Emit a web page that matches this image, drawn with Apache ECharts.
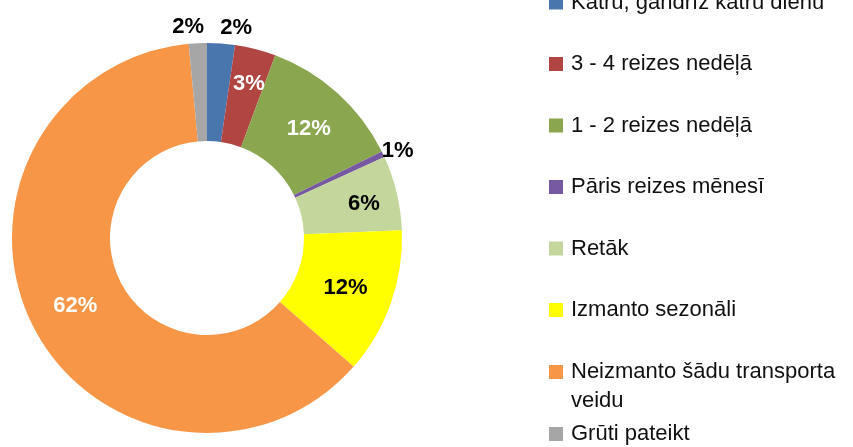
<!DOCTYPE html>
<html>
<head>
<meta charset="utf-8">
<script src="https://cdn.jsdelivr.net/npm/echarts@6/dist/echarts.min.js"></script>
<style>
html,body{margin:0;padding:0;background:#fff;}
#chart{width:853px;height:447px;}
</style>
</head>
<body>
<div id="chart"></div>
<script>
// Categories (legend order)
var categories = [
  'Katru, gandrīz katru dienu',
  '3 - 4 reizes nedēļā',
  '1 - 2 reizes nedēļā',
  'Pāris reizes mēnesī',
  'Retāk',
  'Izmanto sezonāli',
  'Neizmanto šādu transporta veidu',
  'Grūti pateikt'
];
// Shares in percent
var shares = [2.3, 3.4, 12.0, 0.5, 6.2, 12.1, 62.1, 1.5];
// Label texts as shown in the chart
var labelTexts = ['2%', '3%', '12%', '1%', '6%', '12%', '62%', '2%'];

var colors = ['#4A76AE', '#B04541', '#8AA64F', '#7659A0', '#C3D69B', '#FFFF00', '#F79646', '#A6A6A6'];
var labelColors = ['#000', '#fff', '#fff', '#000', '#000', '#000', '#fff', '#000'];
var outsideLabel = [true, false, false, true, false, false, false, true];
var lineLen = [16, 0, 0, 4, 0, 0, 0, 16];
// small label nudges (style only)
var nudgeX = [-2, 5, 2, -5, 12, -2, 1, 7];
var nudgeY = [0, -10, 2, -2, 0, 0, 0, 0];

var FONT = '"Liberation Sans", Arial, sans-serif';

var seriesData = categories.map(function (name, i) {
  var item = {
    name: name,
    value: shares[i],
    itemStyle: { color: colors[i] },
    label: {
      position: outsideLabel[i] ? 'outside' : 'inside',
      color: labelColors[i],
      formatter: labelTexts[i]
    }
  };
  if (outsideLabel[i]) {
    item.labelLine = { show: false, length: lineLen[i], length2: 0 };
  }
  return item;
});

var legendData = categories.map(function (name, i) {
  var d = { name: name, icon: 'rect' };
  if (i === 6) {
    d.textStyle = { width: 292, overflow: 'break', padding: [0, 0, 0, 3] };
  }
  return d;
});

var chart = echarts.init(document.getElementById('chart'), null, { renderer: 'canvas' });
chart.setOption({
  animation: false,
  backgroundColor: '#ffffff',
  legend: {
    orient: 'vertical',
    left: 549,
    top: -40.5,
    height: 800,
    padding: 0,
    itemWidth: 14,
    itemHeight: 14,
    itemGap: -24.5,
    selectedMode: false,
    data: legendData,
    formatter: function (name) {
      // wrapped entry: keep its first line level with the colour key
      return name === categories[6] ? '\n' + name : name;
    },
    textStyle: {
      fontFamily: FONT,
      fontSize: 22,
      color: '#111',
      lineHeight: 29,
      padding: [28.5, 0, 28.5, 3]
    }
  },
  series: [{
    type: 'pie',
    center: [207, 238],
    radius: [97, 195],
    startAngle: 90,
    clockwise: true,
    avoidLabelOverlap: false,
    silent: true,
    itemStyle: { borderWidth: 0 },
    label: {
      show: true,
      fontFamily: FONT,
      fontSize: 22,
      fontWeight: 'bold',
      distanceToLabelLine: 0
    },
    labelLine: { show: false },
    labelLayout: function (p) {
      return { dx: nudgeX[p.dataIndex], dy: nudgeY[p.dataIndex] };
    },
    data: seriesData
  }]
});
</script>
</body>
</html>
